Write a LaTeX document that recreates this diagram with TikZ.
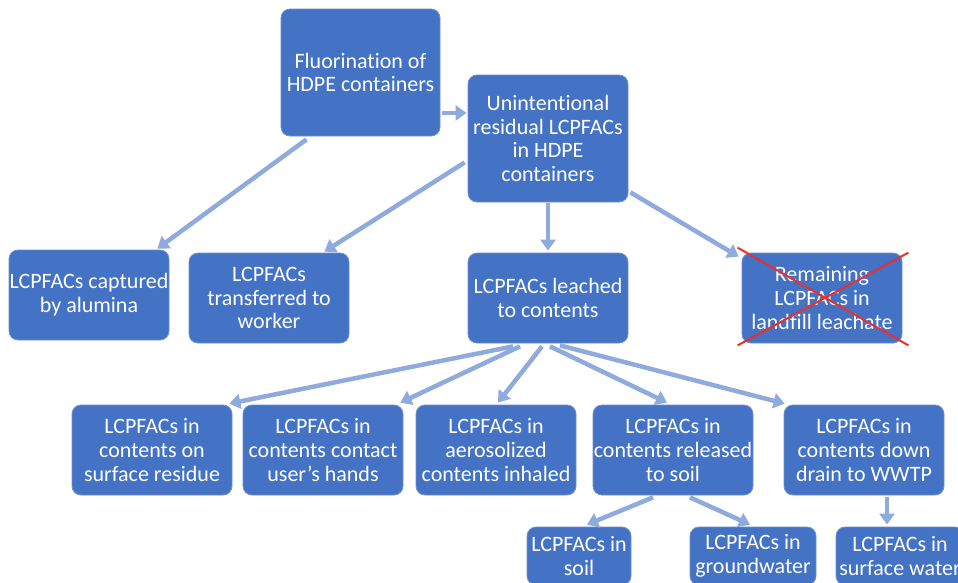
\documentclass[tikz,border=0pt]{standalone}
\usepackage{fontspec}
\setmainfont[Ligatures={NoCommon}]{Carlito}
\usetikzlibrary{arrows.meta,calc}
\definecolor{boxblue}{HTML}{4472C4}
\definecolor{boxedge}{HTML}{6F8FD0}
\definecolor{arrowblue}{HTML}{8FAADC}
\definecolor{crossred}{HTML}{E8312F}
\begin{document}
\begin{tikzpicture}[x=1pt,y=-1pt,
  box/.style={draw=boxedge, line width=0.8pt, fill=boxblue, rounded corners=9pt,
    text=white, align=center, inner sep=0pt,
    font=\fontsize{22}{23.8}\selectfont},
  arr/.style={draw=arrowblue, line width=4.5pt,
    -{Triangle[width=15pt,length=11pt]}},
  cross/.style={draw=crossred, line width=2pt}]
\useasboundingbox (0,0) rectangle (958,582);
\clip (0,0) rectangle (958,582);
% top
\node[box, minimum width=159pt, minimum height=127pt] (fl) at (360.5,72.5) {Fluorination of\\HDPE containers};
\node[box, minimum width=160pt, minimum height=127pt] (un) at (548,138.5) {Unintentional\\residual LCPFACs\\in HDPE\\containers};
% second row
\node[box, minimum width=160pt, minimum height=90pt] (alu) at (89,295) {LCPFACs captured\\by alumina};
\node[box, minimum width=160pt, minimum height=90pt] (wrk) at (269,298) {LCPFACs\\transferred to\\worker};
\node[box, minimum width=160pt, minimum height=90pt] (lea) at (548,298) {LCPFACs leached\\to contents};
\node[box, minimum width=160pt, minimum height=90pt] (rem) at (822,298) {Remaining\\LCPFACs in\\landfill leachate};
% third row
\node[box, minimum width=160pt, minimum height=90pt] (s1) at (152,450) {LCPFACs in\\contents on\\surface residue};
\node[box, minimum width=160pt, minimum height=90pt] (s2) at (323,450) {LCPFACs in\\contents contact\\user’s hands};
\node[box, minimum width=160pt, minimum height=90pt] (s3) at (496,450) {LCPFACs in\\aerosolized\\contents inhaled};
\node[box, minimum width=160pt, minimum height=90pt] (s4) at (673,450) {LCPFACs in\\contents released\\to soil};
\node[box, minimum width=160pt, minimum height=90pt] (s5) at (864,450) {LCPFACs in\\contents down\\drain to WWTP};
% fourth row
\node[box, minimum width=104pt, minimum height=58pt] (g1) at (579,556) {LCPFACs in\\soil};
\node[box, minimum width=126pt, minimum height=58pt] (g2) at (753,556) {LCPFACs in\\groundwater};
\node[box, minimum width=128pt, minimum height=58pt] (g3) at (900,556) {LCPFACs in\\surface water};
% arrows
\draw[arr] ($(fl.east)+(2,40.5)$) -- ($(un.west)+(-1,-25.5)$);
\draw[arr] ($(fl.south)+(-54,3)$) -- ($(alu.north east)+(-12,-1)$);
\draw[arr] ($(un.west)+(-3,24)$) -- ($(wrk.north east)+(-25,-1)$);
\draw[arr] ($(un.south)+(0,1)$) -- ($(lea.north)+(0,-2)$);
\draw[arr] ($(un.south east)+(2,-10)$) -- ($(rem.north west)+(-3,4)$);
\draw[arr] ($(lea.south)+(-35,3)$) -- ($(s1.north east)+(-3,-1)$);
\draw[arr] ($(lea.south)+(-28,3)$) -- ($(s2.north east)+(-3,-2)$);
\draw[arr] ($(lea.south)+(-6,3)$) -- ($(s3.north)+(2,-2)$);
\draw[arr] ($(lea.south)+(2,3)$) -- ($(s4.north)+(-6,-2)$);
\draw[arr] ($(lea.south)+(12,2)$) -- ($(s5.north west)+(1,-1)$);
\draw[arr] ($(s4.south)+(-20,2)$) -- ($(g1.north)+(8,-2)$);
\draw[arr] ($(s4.south)+(17,2)$) -- ($(g2.north)+(-3,-2)$);
\draw[arr] ($(s5.south)+(23,2)$) -- ($(g3.north)+(-13,-2)$);
% red cross
\draw[cross] ($(rem.north west)+(-4,-5)$) -- ($(rem.south east)+(6,2)$);
\draw[cross] ($(rem.north east)+(6,0)$) -- ($(rem.south west)+(-4,2)$);
\end{tikzpicture}
\end{document}
